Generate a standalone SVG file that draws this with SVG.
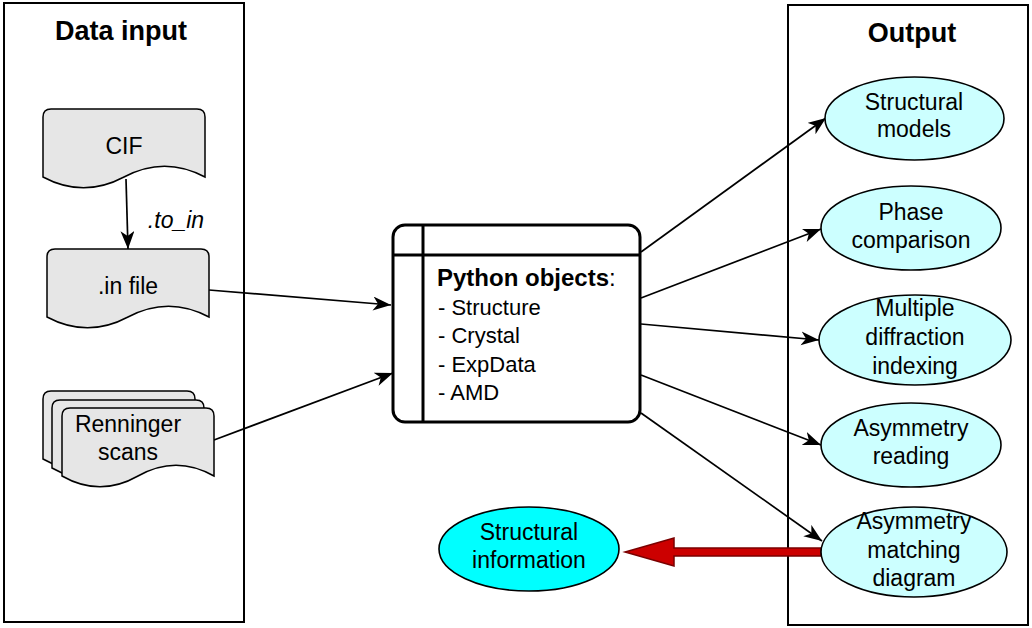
<svg xmlns="http://www.w3.org/2000/svg" width="1032" height="628" viewBox="0 0 1032 628">
<style>
text{font-family:"Liberation Sans",Arial,sans-serif;fill:#000}
.t{font-size:23px;text-anchor:middle}
.title{font-size:27px;font-weight:bold;text-anchor:middle}
.lst{font-size:22px}
.cont{fill:#fff;stroke:#000;stroke-width:2}
.doc{fill:#e6e6e6;stroke:#000;stroke-width:1.5}
.out{fill:#ccffff;stroke:#000;stroke-width:1.6}
.con{fill:none;stroke:#000;stroke-width:1.7}
</style>
<defs>
<marker id="ah" markerUnits="userSpaceOnUse" markerWidth="20" markerHeight="16" refX="18" refY="7" orient="auto">
<path d="M0,0 L18,7 L0,14 L5,7 Z" fill="#000"/>
</marker>
</defs>
<rect width="1032" height="628" fill="#fff"/>
<g id="data-input">
<rect class="cont" x="4" y="3" width="240" height="619"/>
<text class="title" x="121" y="40">Data input</text>
</g>
<g id="output">
<rect class="cont" x="788" y="5" width="240" height="620"/>
<text class="title" x="912" y="42">Output</text>
</g>
<g id="connectors">
<line class="con" x1="126" y1="179" x2="128" y2="249" marker-end="url(#ah)"/>
<text x="176" y="228" style="font-size:23px;font-style:italic;text-anchor:middle">.to_in</text>
<line class="con" x1="209" y1="290" x2="391" y2="305" marker-end="url(#ah)"/>
<line class="con" x1="214" y1="440" x2="393" y2="373" marker-end="url(#ah)"/>
<line class="con" x1="641" y1="252" x2="826" y2="118" marker-end="url(#ah)"/>
<line class="con" x1="641" y1="298" x2="821" y2="229" marker-end="url(#ah)"/>
<line class="con" x1="641" y1="324" x2="819" y2="340" marker-end="url(#ah)"/>
<line class="con" x1="641" y1="375" x2="821" y2="445" marker-end="url(#ah)"/>
<line class="con" x1="641" y1="413" x2="822" y2="541" marker-end="url(#ah)"/>
<path d="M821,548 L674,548 L674,538 L625,552 L674,566 L674,556 L821,556 Z" fill="#cc0000" stroke="#7a0000" stroke-width="1.5"/>
</g>
<g id="cif">
<path class="doc" d="M43,117 Q43,109 51,109 L197,109 Q205,109 205,117 L205,177 Q164.5,155.4 124,177 Q83.5,198.6 43,177 Z"/>
<text class="t" x="124" y="154">CIF</text>
</g>
<g id="in-file">
<path class="doc" d="M47,257 Q47,249 55,249 L201,249 Q209,249 209,257 L209,317 Q168.5,295.4 128,317 Q87.5,338.6 47,317 Z"/>
<text class="t" x="128" y="294">.in file</text>
</g>
<g id="renninger">
<path class="doc" d="M43,399 Q43,391 51,391 L187,391 Q195,391 195,399 L195,459 Q157,437.4 119,459 Q81,480.6 43,459 Z"/>
<path class="doc" d="M52,408 Q52,400 60,400 L196,400 Q204,400 204,408 L204,468 Q166,446.4 128,468 Q90,489.6 52,468 Z"/>
<path class="doc" d="M62,416 Q62,408 70,408 L206,408 Q214,408 214,416 L214,476 Q176,454.4 138,476 Q100,497.6 62,476 Z"/>
<text class="t" x="128" y="432">Renninger</text>
<text class="t" x="128" y="460">scans</text>
</g>
<g id="python-objects">
<rect x="393" y="225" width="247" height="197" rx="12" fill="#fff" stroke="#000" stroke-width="3"/>
<line x1="393" y1="255" x2="640" y2="255" stroke="#000" stroke-width="3"/>
<line x1="423" y1="225" x2="423" y2="422" stroke="#000" stroke-width="3"/>
<text x="437" y="286" style="font-size:24px"><tspan font-weight="bold">Python objects</tspan>:</text>
<text class="lst" x="438" y="315">- Structure</text>
<text class="lst" x="438" y="343">- Crystal</text>
<text class="lst" x="438" y="372">- ExpData</text>
<text class="lst" x="438" y="400">- AMD</text>
</g>
<g id="structural-models">
<ellipse class="out" cx="914.5" cy="118.5" rx="89.5" ry="41.5"/>
<text class="t" x="914" y="110">Structural</text>
<text class="t" x="914" y="137">models</text>
</g>
<g id="phase-comparison">
<ellipse class="out" cx="911" cy="228" rx="90" ry="42"/>
<text class="t" x="911" y="220">Phase</text>
<text class="t" x="911" y="248">comparison</text>
</g>
<g id="multiple-diffraction">
<ellipse class="out" cx="915" cy="340" rx="96" ry="45"/>
<text class="t" x="915" y="316">Multiple</text>
<text class="t" x="915" y="345">diffraction</text>
<text class="t" x="915" y="374">indexing</text>
</g>
<g id="asymmetry-reading">
<ellipse class="out" cx="911" cy="445" rx="90" ry="42"/>
<text class="t" x="911" y="436">Asymmetry</text>
<text class="t" x="911" y="464">reading</text>
</g>
<g id="asymmetry-matching">
<ellipse class="out" cx="914" cy="552" rx="93" ry="45"/>
<text class="t" x="914" y="529">Asymmetry</text>
<text class="t" x="914" y="558">matching</text>
<text class="t" x="914" y="586">diagram</text>
</g>
<g id="structural-information">
<ellipse cx="529" cy="549" rx="90" ry="42" fill="#00ffff" stroke="#000" stroke-width="1.6"/>
<text class="t" x="529" y="540">Structural</text>
<text class="t" x="529" y="568">information</text>
</g>
</svg>
